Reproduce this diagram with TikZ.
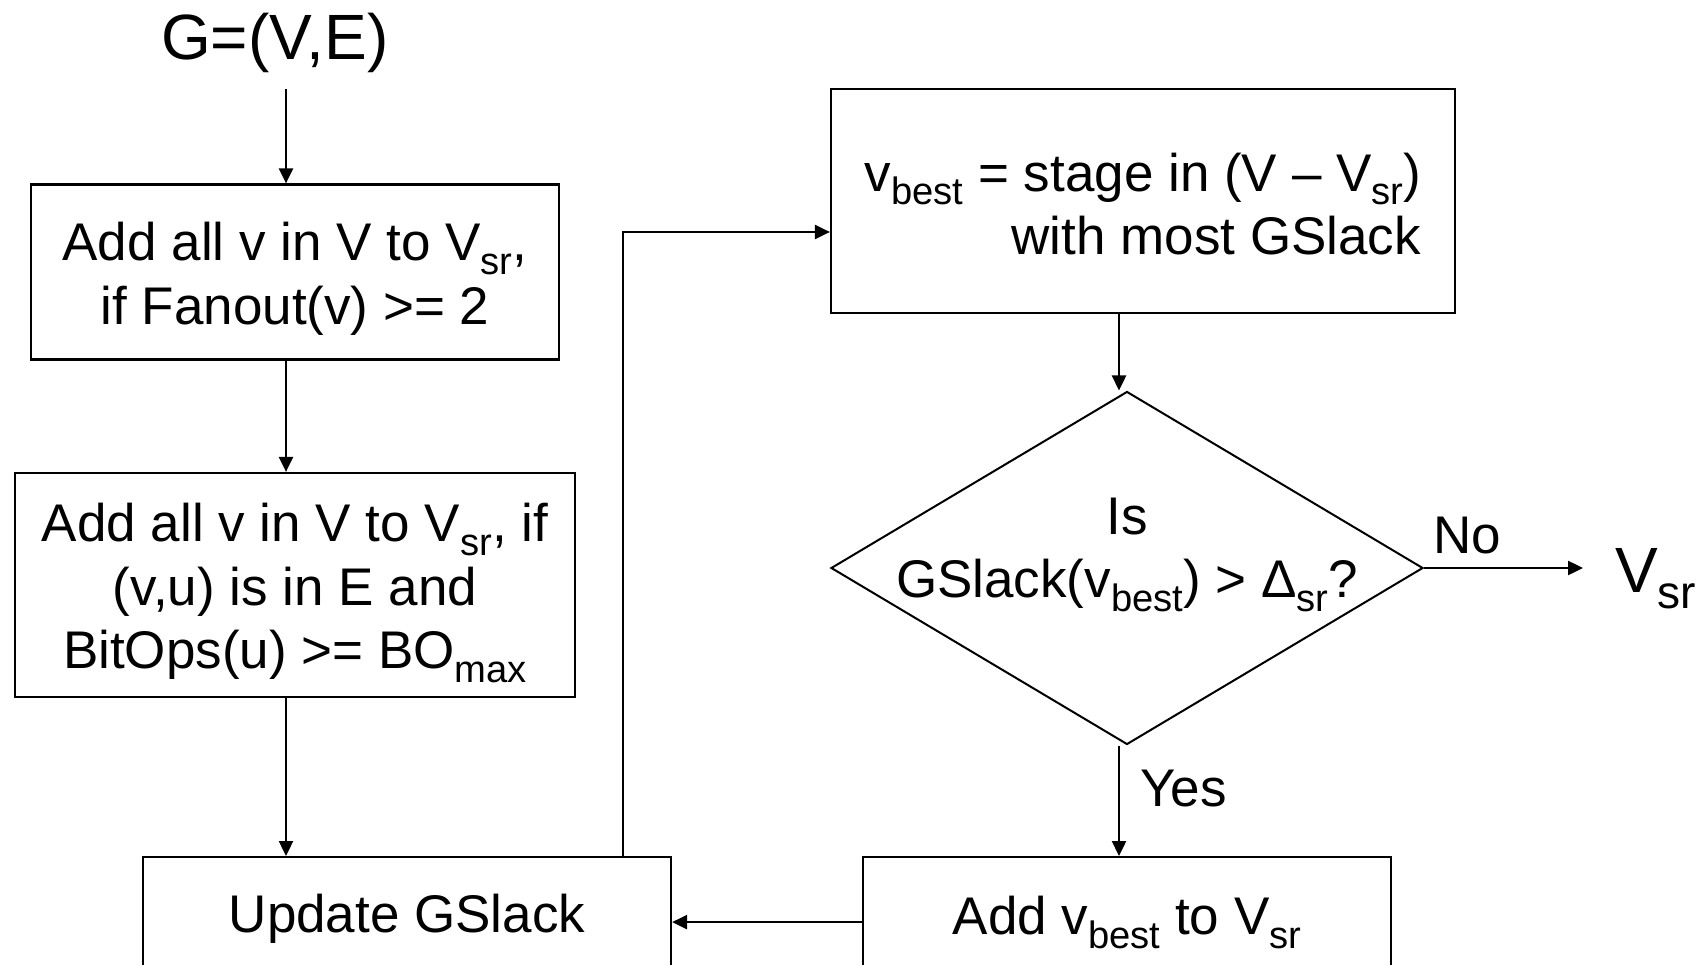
\documentclass[tikz,border=0pt]{standalone}
\usepackage{fontspec}
\setmainfont{Liberation Sans}
\usetikzlibrary{shapes.geometric,arrows.meta}

% lowered, reduced-size subscript set in the text font
\newcommand\lowsub[1]{\raisebox{-0.26em}{\scalebox{0.72}{#1}}}

\begin{document}
\begin{tikzpicture}[x=1pt,y=-1pt,
  every node/.style={inner sep=0pt},
  boxtext/.style={font=\fontsize{53}{63.5}\selectfont},
  bigtext/.style={font=\fontsize{64}{76}\selectfont},
  procbox/.style={draw, line width=2.2pt},
  decision/.style={draw, diamond, line width=2pt, minimum width=592pt, minimum height=353pt},
  arr/.style={line width=2.4pt, -{Triangle[length=15pt,width=14pt]}}]

\useasboundingbox (0,0) rectangle (1708,965);

% input graph
\node[bigtext, anchor=base west] (g) at (161,60) {G=(V,E)};

% left column
\node[procbox, minimum width=528pt, minimum height=175pt] (b1) at (295,272) {};
\node[boxtext, align=center] (t1) at ([yshift=-7pt]b1.center)
  {Add all v in V to V\lowsub{sr},\\ if Fanout(v) >= 2};
\node[procbox, minimum width=560pt, minimum height=224pt] (b2) at (295,585) {};
\node[boxtext, align=center] (t2) at ([yshift=-8pt]b2.center)
  {Add all v in V to V\lowsub{sr}, if\\ (v,u) is in E and\\ BitOps(u) >= BO\lowsub{max}};
\node[procbox, boxtext, minimum width=528pt, minimum height=124pt, anchor=north] (b3) at (407,856)
  {Update GSlack};

% right column
\node[procbox, minimum width=624pt, minimum height=224pt] (b4) at (1143,201) {};
\node[boxtext, align=right] (t4) at ([yshift=-3pt]b4.center)
  {v\lowsub{best} = stage in (V – V\lowsub{sr})\\ with most GSlack};
\node[decision] (d) at (1127,568) {};
\node[boxtext, align=center] (dq) at (1127,555)
  {Is\\ GSlack(v\lowsub{best}) > Δ\lowsub{sr}?};
\node[procbox, boxtext, minimum width=528pt, minimum height=130pt, anchor=north] (b5) at (1127,856)
  {Add v\lowsub{best} to V\lowsub{sr}};

% output and branch labels
\node[bigtext, anchor=base west] (vsr) at (1615,592) {V\lowsub{sr}};
\node[boxtext, anchor=base west] (no) at (1433,553) {No};
\node[boxtext, anchor=base west] (yes) at (1140,806) {Yes};

% connectors
\coordinate (gout) at (286,89);
\coordinate (rx) at (1119,0);
\coordinate (loop) at (623,232);

\draw[arr] (gout) -- (gout |- b1.north);
\draw[arr] (b1.south -| gout) -- (b2.north -| gout);
\draw[arr] (b2.south -| gout) -- (b3.north -| gout);
\draw[arr] (b3.north -| loop) -- (loop) -- (loop -| b4.west);
\draw[arr] (b4.south -| rx) -- (d.north -| rx);
\draw[arr, shorten >=32pt] (d.east) -- (d.east -| vsr.west);
\draw[arr] (d.south -| rx) -- (b5.north -| rx);
\draw[arr] (b5.west) -- (b5.west -| b3.east);

\end{tikzpicture}
\end{document}
